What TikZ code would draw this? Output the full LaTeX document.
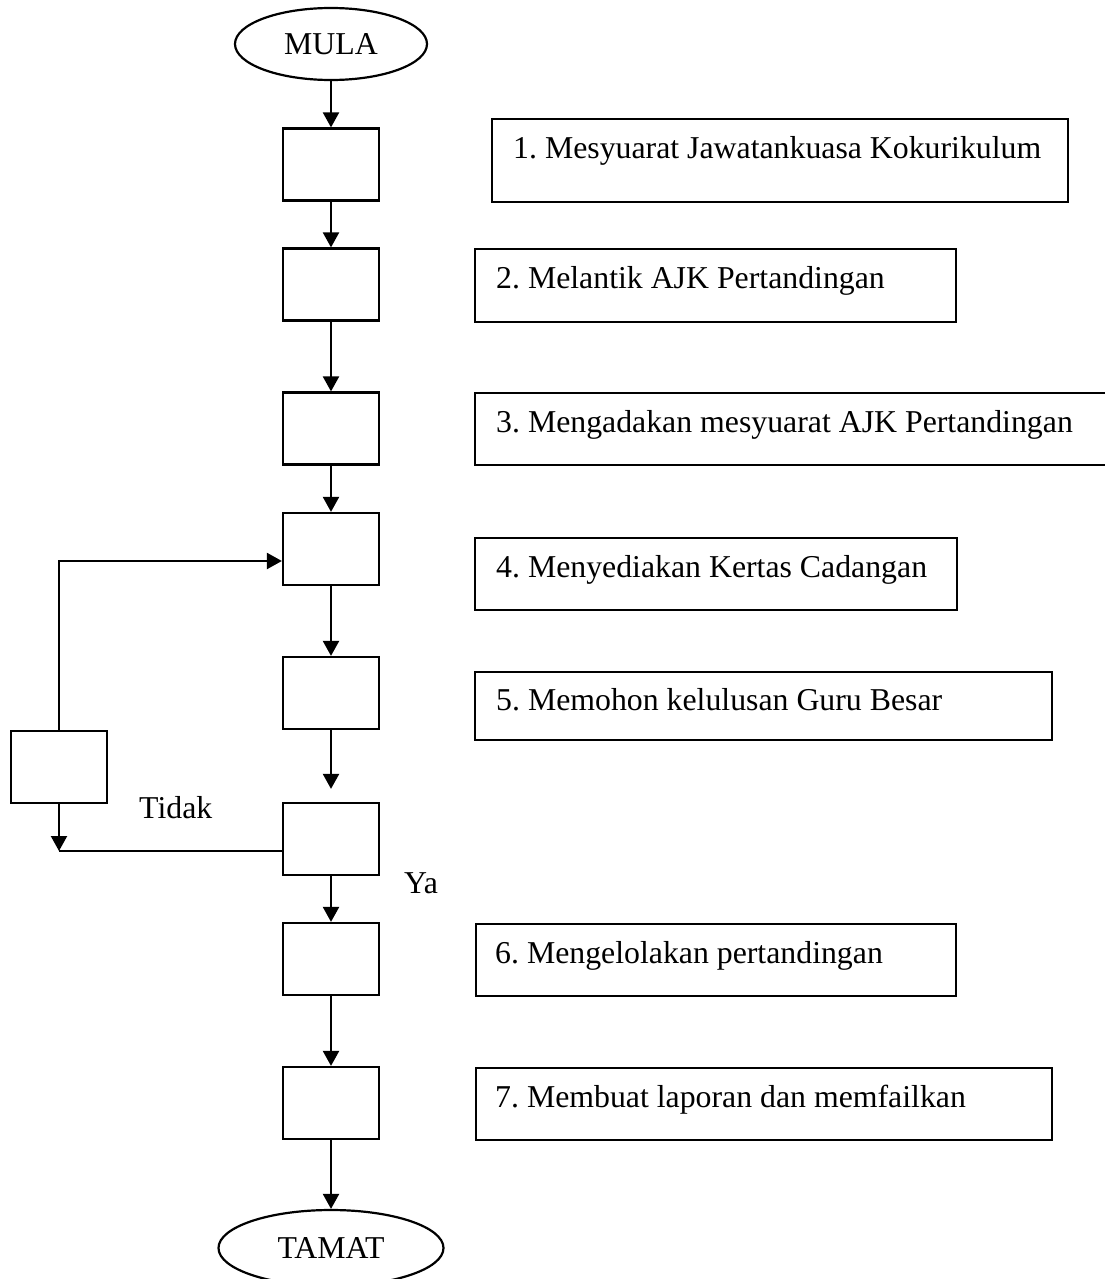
\documentclass[tikz,border=0pt]{standalone}
\usepackage{fontspec}
\setmainfont{Liberation Serif}
\frenchspacing
\usetikzlibrary{shapes.geometric,arrows.meta,calc}
\begin{document}
\begin{tikzpicture}[x=1pt,y=-1pt,
  every node/.style={font=\fontsize{31.8}{36}\selectfont, text=black},
  lw/.style={line width=2.2pt},
  stepbox/.style={draw, lw, rectangle, minimum width=96pt, minimum height=72pt, inner sep=0pt},
  tbox/.style={draw, lw, rectangle, inner sep=0pt, anchor=north west},
  term/.style={draw, lw, ellipse, inner sep=0pt},
  txt/.style={anchor=base west, inner sep=0pt},
  arr/.style={lw, -{Triangle[length=15pt,width=16pt]}},
  ln/.style={lw}
]
\useasboundingbox (0,0) rectangle (1105,1279);
\clip (0,0) rectangle (1105,1279);

% terminals
\node[term, minimum width=192pt, minimum height=72pt] (mula) at (331,44) {MULA};
\node[term, minimum width=225pt, minimum height=76pt] (tamat) at (331,1248) {TAMAT};

% main column boxes
\node[stepbox] (b1) at (331,164.5) {};
\node[stepbox] (b2) at (331,284.5) {};
\node[stepbox] (b3) at (331,428.5) {};
\node[stepbox] (b4) at (331,549) {};
\node[stepbox] (b5) at (331,693) {};
\node[stepbox] (d)  at (331,839) {};
\node[stepbox] (b6) at (331,959) {};
\node[stepbox] (b7) at (331,1103) {};
\node[stepbox] (lb) at (59,767) {};

% text boxes
\node[tbox, minimum width=576pt, minimum height=83pt] (t1) at (491,118) {};
\node[txt] (t1l) at ($(t1.north west)+(22,40)$) {1. Mesyuarat Jawatankuasa Kokurikulum};
\node[tbox, minimum width=481pt, minimum height=73pt] (t2) at (474,248) {};
\node[txt] (t2l) at ($(t2.north west)+(22,40)$) {2. Melantik AJK Pertandingan};
\node[tbox, minimum width=660pt, minimum height=72pt] (t3) at (474,392) {};
\node[txt] (t3l) at ($(t3.north west)+(22,40)$) {3. Mengadakan mesyuarat AJK Pertandingan};
\node[tbox, minimum width=482pt, minimum height=72pt] (t4) at (474,537) {};
\node[txt] (t4l) at ($(t4.north west)+(22,40)$) {4. Menyediakan Kertas Cadangan};
\node[tbox, minimum width=577pt, minimum height=68pt] (t5) at (474,671) {};
\node[txt] (t5l) at ($(t5.north west)+(22,39)$) {5. Memohon kelulusan Guru Besar};
\node[tbox, minimum width=480pt, minimum height=72pt] (t6) at (475,923) {};
\node[txt] (t6l) at ($(t6.north west)+(20,40)$) {6. Mengelolakan pertandingan};
\node[tbox, minimum width=576pt, minimum height=72pt] (t7) at (475,1067) {};
\node[txt] (t7l) at ($(t7.north west)+(20,40)$) {7. Membuat laporan dan memfailkan};

% labels
\node[txt] (tidak) at (139,818) {Tidak};
\node[txt] (ya) at (404,893) {Ya};

% connectors
\draw[arr] (mula) -- (b1);
\draw[arr] (b1) -- (b2);
\draw[arr] (b2) -- (b3);
\draw[arr] (b3) -- (b4);
\draw[arr] (b4) -- (b5);
\coordinate (dtop) at ($(d.north)+(0,-13)$);
\draw[arr] (b5) -- (dtop);
\draw[arr] (d) -- (b6);
\draw[arr] (b6) -- (b7);
\draw[arr] (b7) -- (tamat);

% loop
\coordinate (lpin) at ($(b4.west)+(0,12)$);
\draw[arr] (lb.north) |- (lpin);
\coordinate (dout) at ($(d.west)+(0,12)$);
\draw[ln] (dout) -- (dout -| lb.south);
\draw[arr] (lb.south) -- (lb.south |- dout);
\end{tikzpicture}
\end{document}
